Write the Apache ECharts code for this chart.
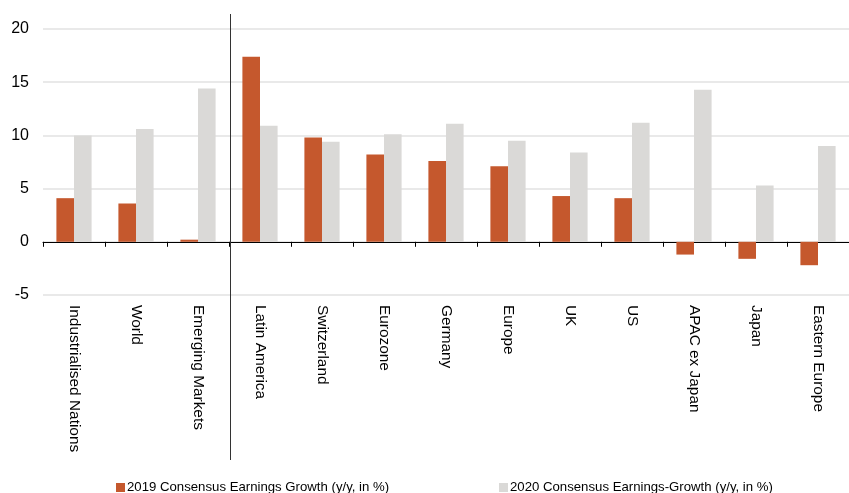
<!DOCTYPE html>
<html>
<head>
<meta charset="utf-8">
<script src="https://cdn.jsdelivr.net/npm/echarts@6/dist/echarts.min.js"></script>
<style>
  html, body { margin: 0; padding: 0; background: #ffffff; }
  #chart { width: 849px; height: 493px; }
</style>
</head>
<body>
<div id="chart"></div>
<script>
// Regions / markets shown along the category axis
const categories = [
  'Industrialised Nations', 'World', 'Emerging Markets', 'Latin America',
  'Switzerland', 'Eurozone', 'Germany', 'Europe', 'UK', 'US',
  'APAC ex Japan', 'Japan', 'Eastern Europe'
];

// Consensus earnings growth, y/y in %
const growth2019 = [4.1, 3.6, 0.2, 17.4, 9.8, 8.2, 7.6, 7.1, 4.3, 4.1, -1.2, -1.6, -2.2];
const growth2020 = [10.0, 10.6, 14.4, 10.9, 9.4, 10.1, 11.1, 9.5, 8.4, 11.2, 14.3, 5.3, 9.0];

const seriesNames = [
  '2019 Consensus Earnings Growth (y/y, in %)',
  '2020 Consensus Earnings-Growth (y/y, in %)'
];

// Value axis ticks
const yTicks = [-5, 0, 5, 10, 15, 20];

const ORANGE = '#C5582D';
const GREY = '#DAD9D7';
const FONT = 'Liberation Sans, Arial, sans-serif';

const chart = echarts.init(document.getElementById('chart'), null, { renderer: 'canvas' });

const option = {
  animation: false,
  backgroundColor: '#ffffff',
  grid: { left: 43, right: -4.3, top: 29, bottom: 198, containLabel: false },
  legend: [
    {
      data: [seriesNames[0]],
      left: 111, top: 476,
      icon: 'rect', itemWidth: 9, itemHeight: 9, itemGap: 0,
      textStyle: { fontFamily: FONT, fontSize: 13.2, color: '#000', padding: [0, 0, 0, -3] }
    },
    {
      data: [seriesNames[1]],
      left: 494, top: 476,
      icon: 'rect', itemWidth: 9, itemHeight: 9, itemGap: 0,
      textStyle: { fontFamily: FONT, fontSize: 13.2, color: '#000', padding: [0, 0, 0, -3] }
    }
  ],
  xAxis: [
    {
      // labels along the bottom of the plot
      type: 'category',
      data: categories,
      position: 'bottom',
      axisLine: { show: false, onZero: false },
      axisTick: { show: false },
      axisLabel: {
        interval: 0,
        rotate: -90,
        margin: 10,
        fontFamily: FONT,
        fontSize: 15.4,
        color: '#000'
      },
      splitLine: { show: false }
    },
    {
      // baseline at zero with a tick between every category
      type: 'category',
      data: categories,
      position: 'bottom',
      axisLine: { show: true, onZero: true, lineStyle: { color: '#000', width: 1 } },
      axisTick: { show: true, interval: 0, length: 5, inside: false, lineStyle: { color: '#000' } },
      axisLabel: { show: false, interval: 0 },
      splitLine: { show: false }
    }
  ],
  yAxis: {
    type: 'value',
    min: yTicks[0],
    max: yTicks[yTicks.length - 1],
    interval: 5,
    axisLine: { show: false },
    axisTick: { show: false },
    axisLabel: {
      margin: 14,
      fontFamily: FONT,
      fontSize: 16,
      color: '#000'
    },
    splitLine: { show: true, lineStyle: { color: '#E2E2E2', width: 1.5 } }
  },
  series: [
    {
      name: seriesNames[0],
      type: 'bar',
      xAxisIndex: 0,
      data: growth2019,
      barWidth: 17.6,
      barGap: '0%',
      itemStyle: { color: ORANGE }
    },
    {
      name: seriesNames[1],
      type: 'bar',
      xAxisIndex: 0,
      data: growth2020,
      barWidth: 17.6,
      barGap: '0%',
      itemStyle: { color: GREY }
    }
  ]
};

chart.setOption(option);

// Divider between the aggregate groups and the individual regions
const leftCenter = chart.convertToPixel({ xAxisIndex: 0 }, categories[2]);
const rightCenter = chart.convertToPixel({ xAxisIndex: 0 }, categories[3]);
const dividerX = Math.round((leftCenter + rightCenter) / 2) + 1.5;
chart.setOption({
  graphic: [
    {
      type: 'line',
      shape: { x1: dividerX, y1: 14, x2: dividerX, y2: 460 },
      style: { stroke: '#333333', lineWidth: 1 },
      silent: true,
      z: 100
    }
  ]
});
</script>
</body>
</html>
